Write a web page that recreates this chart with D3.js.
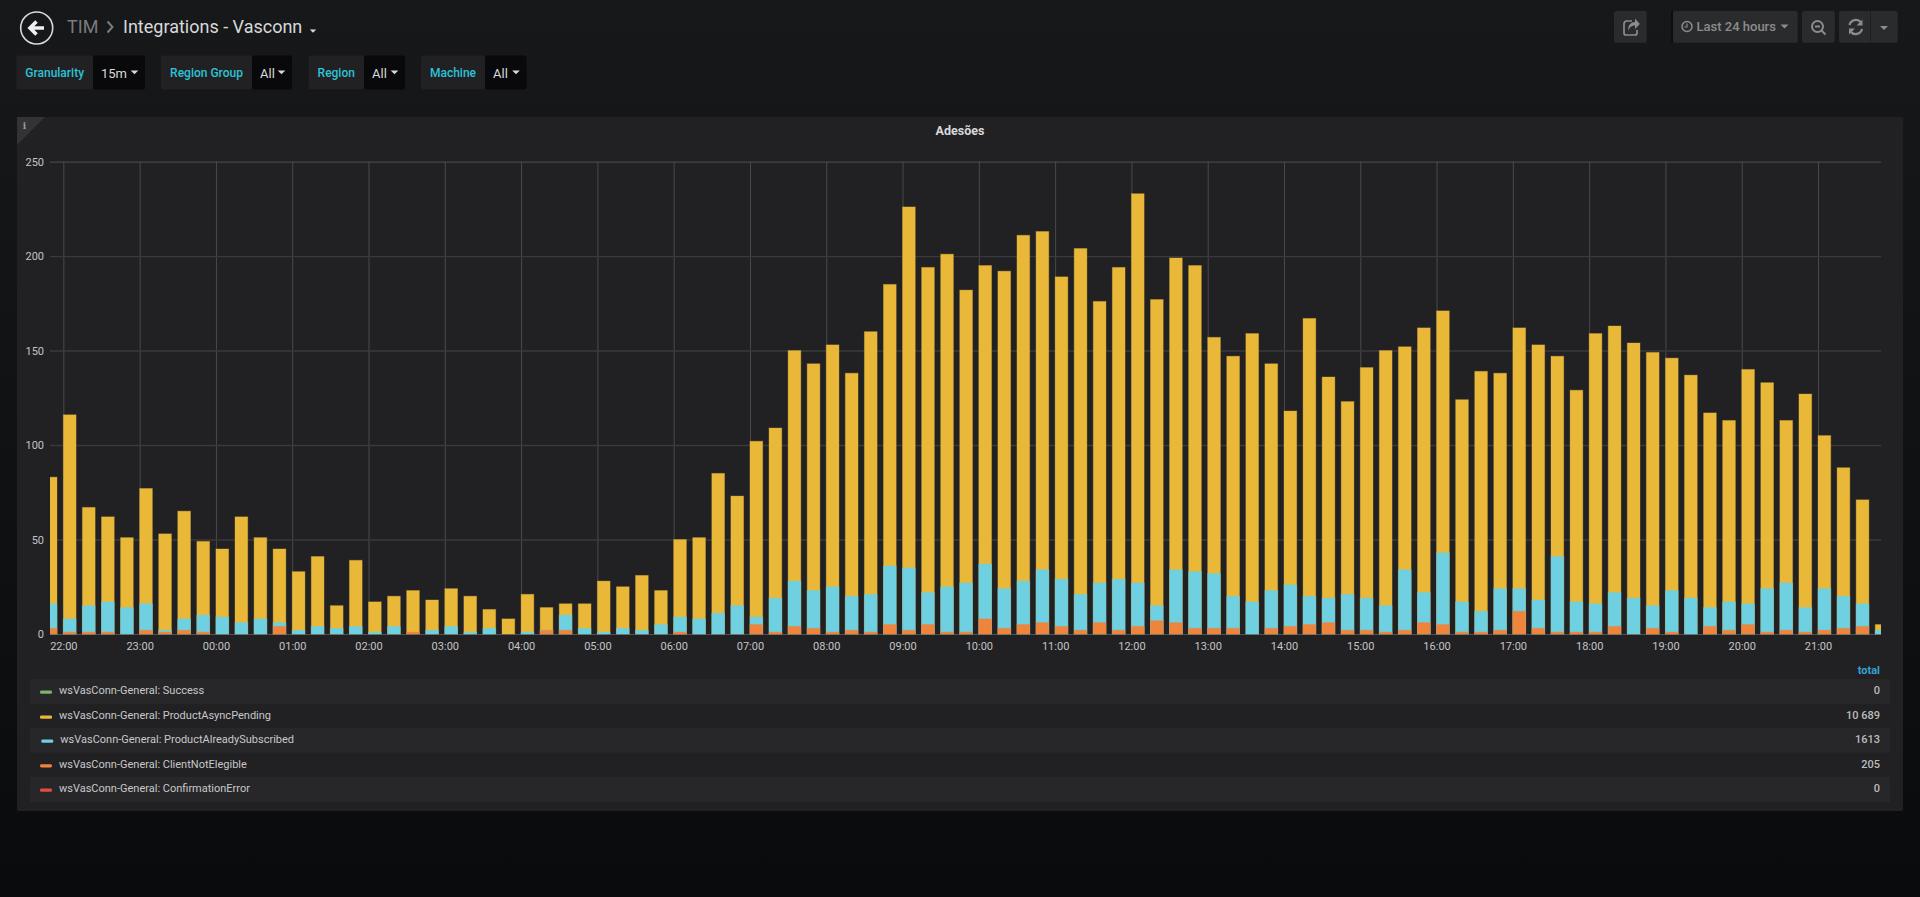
<!DOCTYPE html>
<html>
<head>
<meta charset="utf-8">
<title>Integrations - Vasconn</title>
<script src="https://cdn.jsdelivr.net/npm/d3@7"></script>
<style>
  html, body { margin: 0; padding: 0; background: #0b0c0e; overflow: hidden; }
  svg { display: block; }
  text { font-family: Roboto, "Open Sans", sans-serif; }
  .axis text { font-size: 11px; fill: #c4c4c5; }
  .axis .domain { display: none; }
  .y-axis line { stroke: #3a3a3c; stroke-width: 1.4; }
  .x-axis line { stroke: #4a4a4c; stroke-width: 1; }
</style>
</head>
<body>
<div id="chart"></div>
<script>
// one bar every 15 minutes, first bar at 21:45
const barStart = Date.UTC(2018, 0, 1, 21, 45);
const stepMinutes = 15;

const success = [
  0,0,0,0,0,0,0,0,0,0,0,0,0,0,0,0,0,0,0,0,0,0,0,0,
  0,0,0,0,0,0,0,0,0,0,0,0,0,0,0,0,0,0,0,0,0,0,0,0,
  0,0,0,0,0,0,0,0,0,0,0,0,0,0,0,0,0,0,0,0,0,0,0,0,
  0,0,0,0,0,0,0,0,0,0,0,0,0,0,0,0,0,0,0,0,0,0,0,0,0
];
const productAsyncPending = [
  83,116,67,62,51,77,53,65,49,45,62,51,45,33,41,15,39,17,20,23,18,24,20,13,
  8,21,14,16,16,28,25,31,23,50,51,85,73,102,109,150,143,153,138,160,185,226,194,201,
  182,195,192,211,213,189,204,176,194,233,177,199,195,157,147,159,143,118,167,136,123,141,150,152,
  162,171,124,139,138,162,153,147,129,159,163,154,149,146,137,117,113,140,133,113,127,105,88,71,5
];
const productAlreadySubscribed = [
  16,8,15,17,14,16,2,8,10,9,6,8,6,2,4,3,4,1,4,0,2,4,1,3,
  0,1,2,10,3,1,3,2,5,9,8,11,15,9,19,28,23,25,20,21,36,35,22,25,
  27,37,24,28,34,29,21,27,29,27,15,34,33,32,20,17,23,26,20,19,21,19,15,34,
  22,43,17,12,24,24,18,41,17,16,22,19,15,23,19,14,17,16,24,27,14,24,20,16,2
];
const clientNotElegible = [
  3,1,1,1,0,2,1,2,1,0,0,0,4,0,0,0,0,0,0,1,0,0,0,0,
  0,0,2,2,0,0,0,0,0,1,0,0,0,5,1,4,3,1,2,1,5,2,5,1,
  1,8,3,5,6,4,2,6,2,4,7,6,3,3,3,0,3,4,5,6,2,2,1,2,
  6,5,1,1,2,12,3,1,1,1,4,0,3,1,0,4,2,5,1,2,1,2,3,4,0
];
const confirmationError = [
  0,0,0,0,0,0,0,0,0,0,0,0,0,0,0,0,0,0,0,0,0,0,0,0,
  0,0,0,0,0,0,0,0,0,0,0,0,0,0,0,0,0,0,0,0,0,0,0,0,
  0,0,0,0,0,0,0,0,0,0,0,0,0,0,0,0,0,0,0,0,0,0,0,0,
  0,0,0,0,0,0,0,0,0,0,0,0,0,0,0,0,0,0,0,0,0,0,0,0,0
];

const legendNames = ['Success', 'ProductAsyncPending', 'ProductAlreadySubscribed', 'ClientNotElegible', 'ConfirmationError'];
const legendTotals = ['0', '10 689', '1613', '205', '0'];
const legendColors = ['#7eb26d', '#eab839', '#6ed0e0', '#ef843c', '#e24d42'];
const yTicks = [0, 50, 100, 150, 200, 250];
const variableNames = ['Granularity', 'Region Group', 'Region', 'Machine'];
const variableValues = ['15m', 'All', 'All', 'All'];

const width = 1920, height = 897;
const plot = { left: 50, right: 1881, top: 161.6, bottom: 634 };
const panel = { left: 17, right: 1903, top: 117, bottom: 811 };

const svg = d3.select('#chart').append('svg')
  .attr('width', width)
  .attr('height', height);

const defs = svg.append('defs');
const bg = defs.append('linearGradient')
  .attr('id', 'page-bg')
  .attr('x1', 0).attr('x2', 0).attr('y1', 0).attr('y2', 1);
bg.append('stop').attr('offset', '0%').attr('stop-color', '#17181a');
bg.append('stop').attr('offset', '100%').attr('stop-color', '#0a0b0c');

defs.append('clipPath').attr('id', 'plot-clip').append('rect')
  .attr('x', plot.left)
  .attr('y', plot.top - 5)
  .attr('width', plot.right - plot.left)
  .attr('height', plot.bottom - plot.top + 10);

svg.append('rect')
  .attr('width', width)
  .attr('height', height)
  .attr('fill', 'url(#page-bg)');

drawHeader();
drawVariables();

// panel
svg.append('rect')
  .attr('x', panel.left)
  .attr('y', panel.top)
  .attr('width', panel.right - panel.left)
  .attr('height', panel.bottom - panel.top)
  .attr('rx', 2)
  .attr('fill', '#212124');

svg.append('path')
  .attr('d', `M${panel.left},${panel.top}h28L${panel.left},${panel.top + 28}Z`)
  .attr('fill', '#333336');
svg.append('text')
  .attr('x', 24.5).attr('y', 129)
  .attr('text-anchor', 'middle')
  .attr('fill', '#9a9a9c')
  .style('font-family', 'DejaVu Serif')
  .style('font-weight', 700)
  .style('font-size', '9px')
  .text('i');

svg.append('text')
  .attr('x', 960).attr('y', 134.5)
  .attr('text-anchor', 'middle')
  .attr('fill', '#d8d9da')
  .style('font-size', '12.5px')
  .style('font-weight', 700)
  .text('Adesões');

// scales
const pxPerHour = 76.29;
const domainStart = Date.UTC(2018, 0, 1, 21, 49, 30);
const xScale = d3.scaleUtc()
  .domain([new Date(domainStart), new Date(domainStart + (plot.right - plot.left) / pxPerHour * 3600000)])
  .range([plot.left, plot.right]);
const yScale = d3.scaleLinear()
  .domain([0, 250])
  .range([plot.bottom, plot.top]);

svg.append('g')
  .attr('class', 'axis x-axis')
  .attr('transform', `translate(0,${plot.bottom})`)
  .call(d3.axisBottom(xScale)
    .ticks(d3.utcHour.every(1))
    .tickFormat(d3.utcFormat('%H:%M'))
    .tickSize(-(plot.bottom - plot.top))
    .tickPadding(8.5));

svg.append('g')
  .attr('class', 'axis y-axis')
  .attr('transform', `translate(${plot.left},0)`)
  .call(d3.axisLeft(yScale)
    .tickValues(yTicks)
    .tickSize(-(plot.right - plot.left))
    .tickPadding(6));

svg.select('.y-axis').selectAll('.tick')
  .filter(d => d === 250 || d === 0)
  .select('line')
  .style('stroke', '#505052')
  .style('stroke-width', 1);

// bars overlap, they all start at zero
const barLayers = [
  { values: confirmationError, color: legendColors[4] },
  { values: productAsyncPending, color: legendColors[1] },
  { values: productAlreadySubscribed, color: legendColors[2] },
  { values: success, color: legendColors[0] },
  { values: clientNotElegible, color: legendColors[3] }
];
const barMs = 10 * 60000;
const timeAt = i => new Date(barStart + i * stepMinutes * 60000);

const barGroup = svg.append('g').attr('clip-path', 'url(#plot-clip)');
barLayers.forEach(layer => {
  barGroup.append('g').selectAll('rect')
    .data(layer.values)
    .enter()
    .append('rect')
    .attr('x', (d, i) => xScale(timeAt(i)))
    .attr('y', d => yScale(d))
    .attr('width', (d, i) => xScale(new Date(+timeAt(i) + barMs)) - xScale(timeAt(i)))
    .attr('height', d => yScale(0) - yScale(d))
    .attr('fill', layer.color)
    .attr('stroke', layer.color)
    .attr('stroke-opacity', 0.35)
    .attr('stroke-width', 1);
});

// legend table
svg.append('text')
  .attr('x', 1880).attr('y', 673.5)
  .attr('text-anchor', 'end')
  .attr('fill', '#33a2d6')
  .style('font-size', '11px')
  .style('font-weight', 700)
  .text('total');

const rowTops = [679, 704, 728, 752.7, 777];
const rowHeights = [25, 24, 24.7, 24.3, 25];
const rows = svg.append('g').selectAll('g')
  .data(legendNames)
  .enter()
  .append('g');

rows.filter((d, i) => i % 2 === 0).append('rect')
  .attr('x', 30)
  .attr('y', (d) => rowTops[legendNames.indexOf(d)])
  .attr('width', 1860)
  .attr('height', (d) => rowHeights[legendNames.indexOf(d)])
  .attr('fill', '#272729');

const rowShift = i => (i === 2 ? 1.3 : 0);
rows.append('rect')
  .attr('x', (d, i) => 40 + rowShift(i))
  .attr('y', (d, i) => rowTops[i] + 11.6)
  .attr('width', 12)
  .attr('height', 3.2)
  .attr('rx', 1.4)
  .attr('fill', (d, i) => legendColors[i]);

rows.append('text')
  .attr('x', (d, i) => 59 + rowShift(i))
  .attr('y', (d, i) => rowTops[i] + 15)
  .attr('fill', '#c8c8c9')
  .style('font-size', '11px')
  .text(d => `wsVasConn-General: ${d}`);

rows.append('text')
  .attr('x', 1880)
  .attr('y', (d, i) => rowTops[i] + 15)
  .attr('text-anchor', 'end')
  .attr('fill', '#bcbcbd')
  .style('font-size', '11px')
  .style('font-weight', 500)
  .text((d, i) => legendTotals[i]);

function caret(x, y, size, color) {
  svg.append('path')
    .attr('d', `M${x - size},${y}h${size * 2}l${-size},${size}Z`)
    .attr('fill', color);
}

function drawHeader() {
  // back button
  svg.append('circle')
    .attr('cx', 36.7).attr('cy', 28).attr('r', 16)
    .attr('fill', 'none')
    .attr('stroke', '#d8d9da')
    .attr('stroke-width', 1.6);
  svg.append('path')
    .attr('d', 'M44,28H31M36.5,21.5L30,28L36.5,34.5')
    .attr('fill', 'none')
    .attr('stroke', '#f0f0f0')
    .attr('stroke-width', 3.6);

  svg.append('text')
    .attr('x', 67).attr('y', 33.3)
    .attr('fill', '#7b7b7c')
    .style('font-size', '18px')
    .text('TIM');
  svg.append('path')
    .attr('d', 'M107.5,21.5L112.5,27L107.5,32.5')
    .attr('fill', 'none')
    .attr('stroke', '#7b7b7c')
    .attr('stroke-width', 2);
  svg.append('text')
    .attr('x', 123).attr('y', 33.3)
    .attr('fill', '#d8d9da')
    .style('font-size', '18px')
    .text('Integrations - Vasconn');
  caret(313, 29.5, 3.2, '#d8d9da');

  const btn = (x, w) => svg.append('rect')
    .attr('x', x).attr('y', 11)
    .attr('width', w).attr('height', 31.7)
    .attr('rx', 2)
    .attr('fill', '#2a2b2d');
  btn(1614, 32.7);
  btn(1673, 124.7);
  btn(1802, 32.7);
  btn(1839, 58.7);
  svg.append('rect').attr('x', 1671).attr('y', 11).attr('width', 2).attr('height', 31.7).attr('fill', '#0d0e0f');
  svg.append('line')
    .attr('x1', 1870.5).attr('x2', 1870.5).attr('y1', 11).attr('y2', 42.7)
    .attr('stroke', '#1e1f21');

  const iconColor = '#8c8c8d';
  // share
  svg.append('path')
    .attr('d', 'M1632,21h-5a3,3 0 0 0 -3,3v9a2,2 0 0 0 2,2h9a2,2 0 0 0 2,-2v-3')
    .attr('fill', 'none')
    .attr('stroke', iconColor)
    .attr('stroke-width', 1.7);
  svg.append('path')
    .attr('d', 'M1628,31c0,-6 3,-9 7,-9v-3.5l4.8,5.5l-4.8,5v-3.5c-3,0 -5.5,1.5 -7,5.5Z')
    .attr('fill', iconColor);
  // clock
  svg.append('circle')
    .attr('cx', 1687).attr('cy', 26.5).attr('r', 5)
    .attr('fill', 'none')
    .attr('stroke', iconColor)
    .attr('stroke-width', 1.5);
  svg.append('path')
    .attr('d', 'M1687,23.5v3.5h-2.8')
    .attr('fill', 'none')
    .attr('stroke', iconColor)
    .attr('stroke-width', 1.2);
  svg.append('text')
    .attr('x', 1696.5).attr('y', 31.2)
    .attr('fill', iconColor)
    .style('font-size', '13px')
    .style('font-weight', 500)
    .text('Last 24 hours');
  caret(1784.5, 24.5, 4, iconColor);
  // zoom out
  svg.append('circle')
    .attr('cx', 1817.5).attr('cy', 26.5).attr('r', 5.5)
    .attr('fill', 'none')
    .attr('stroke', iconColor)
    .attr('stroke-width', 2);
  svg.append('path')
    .attr('d', 'M1815,26.5h5M1821.5,30.5l4,4')
    .attr('fill', 'none')
    .attr('stroke', iconColor)
    .attr('stroke-width', 2);
  // refresh
  svg.append('path')
    .attr('d', 'M1849.5,25a6.5,6.5 0 0 1 11.5,-2.5M1862,29a6.5,6.5 0 0 1 -11.5,2.5')
    .attr('fill', 'none')
    .attr('stroke', iconColor)
    .attr('stroke-width', 2.2);
  svg.append('path')
    .attr('d', 'M1862.5,19.5v6h-6ZM1849,34.5v-6h6Z')
    .attr('fill', iconColor);
  caret(1884, 26, 4, iconColor);
}

function drawVariables() {
  const labelStart = [16.3, 161, 308.5, 421];
  const valueStart = [93, 252, 364, 485];
  const valueEnd = [145, 292, 405, 526.5];

  variableNames.forEach((name, i) => {
    svg.append('rect')
      .attr('x', labelStart[i]).attr('y', 55.5)
      .attr('width', valueStart[i] - labelStart[i]).attr('height', 34)
      .attr('rx', 2)
      .attr('fill', '#212124');
    svg.append('rect')
      .attr('x', valueStart[i]).attr('y', 55.5)
      .attr('width', valueEnd[i] - valueStart[i]).attr('height', 34)
      .attr('rx', 2)
      .attr('fill', '#09090b');
    svg.append('text')
      .attr('x', (labelStart[i] + valueStart[i]) / 2).attr('y', 77)
      .attr('text-anchor', 'middle')
      .attr('fill', '#2bc3d6')
      .style('font-size', '12px')
      .style('font-weight', 500)
      .text(name);
    svg.append('text')
      .attr('x', valueStart[i] + 8).attr('y', 78)
      .attr('fill', '#d8d9da')
      .style('font-size', '13px')
      .text(variableValues[i]);
    caret(valueEnd[i] - 10.5, 70.5, 3.8, '#d8d9da');
  });
}
</script>
</body>
</html>
